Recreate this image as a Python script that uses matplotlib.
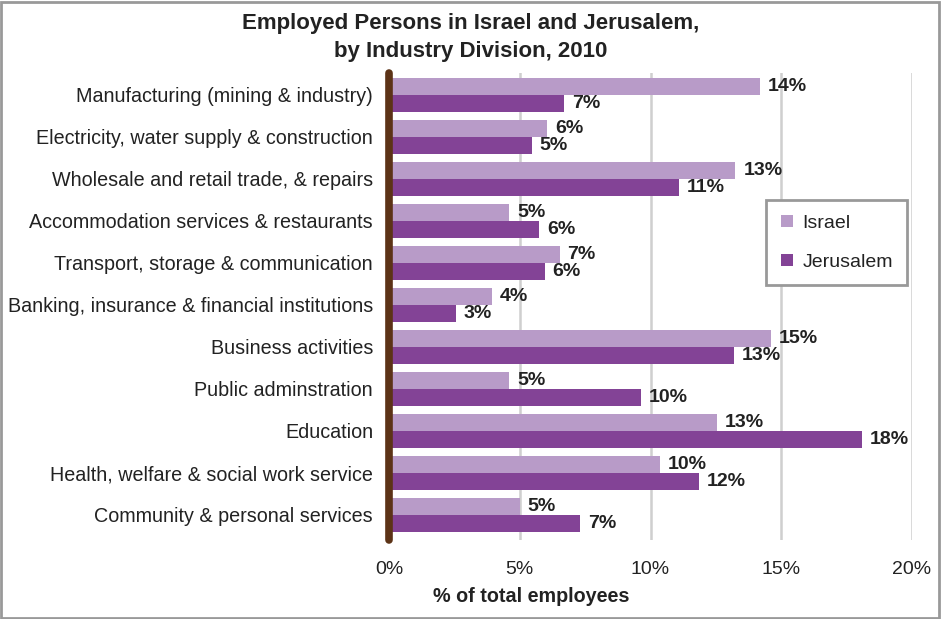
import matplotlib
matplotlib.use("Agg")
import matplotlib.pyplot as plt
from matplotlib.patches import Rectangle, Patch
import numpy as np
import math

categories = [
    "Manufacturing (mining & industry)",
    "Electricity, water supply & construction",
    "Wholesale and retail trade, & repairs",
    "Accommodation services & restaurants",
    "Transport, storage & communication",
    "Banking, insurance & financial institutions",
    "Business activities",
    "Public adminstration",
    "Education",
    "Health, welfare & social work service",
    "Community & personal services",
]
israel = [14.2, 6.05, 13.25, 4.6, 6.53, 3.95, 14.6, 4.6, 12.53, 10.35, 5.0]
jerusalem = [6.7, 5.45, 11.1, 5.75, 5.95, 2.55, 13.2, 9.65, 18.1, 11.85, 7.3]
xticks = [0, 5, 10, 15, 20]
xticklabels = ["0%", "5%", "10%", "15%", "20%"]
series_names = ["Israel", "Jerusalem"]

C_ISR = "#b89bc8"
C_JER = "#834396"
C_BROWN = "#5c3317"
C_TEXT = "#222222"

plt.rcParams["font.family"] = ["Liberation Sans", "DejaVu Sans"]

W, H = 941, 619
fig = plt.figure(figsize=(W / 100, H / 100), dpi=100)
L, R, T, B = 389, 912, 73, 540
ax = fig.add_axes([L / W, 1 - B / H, (R - L) / W, (B - T) / H])

y = np.arange(len(categories))
bh = 0.405
ax.barh(y - bh / 2, israel, height=bh, color=C_ISR, zorder=3)
ax.barh(y + bh / 2, jerusalem, height=bh, color=C_JER, zorder=3)


def pct(v):
    return f"{int(math.floor(v + 0.5))}%"


for yi, v in zip(y, israel):
    ax.text(v + 0.3, yi - bh / 2, pct(v), va="center", ha="left",
            fontsize=14, fontweight="bold", color=C_TEXT, zorder=5)
for yi, v in zip(y, jerusalem):
    ax.text(v + 0.3, yi + bh / 2, pct(v), va="center", ha="left",
            fontsize=14, fontweight="bold", color=C_TEXT, zorder=5)

ax.set_xlim(0, 20)
ax.set_ylim(len(categories) - 0.4, -0.52)
ax.set_xticks(xticks)
ax.set_xticklabels(xticklabels, fontsize=14, color=C_TEXT)
ax.set_yticks(y)
ax.set_yticklabels(categories, fontsize=14.2, color=C_TEXT)
ax.tick_params(axis="y", length=0, pad=11.5)
ax.tick_params(axis="x", length=0, pad=15)
for s in ax.spines.values():
    s.set_visible(False)
for xt in xticks[1:]:
    ax.axvline(xt, color="#cfcfcf", lw=1.8, zorder=1)
ax.plot([0, 0], [len(categories) - 0.4, -0.52], color=C_BROWN, lw=5.5,
        solid_capstyle="round", clip_on=False, zorder=6)

fig.text(470.5 / W, 1 - 23 / H, "Employed Persons in Israel and Jerusalem,",
         ha="center", va="center", fontsize=16, fontweight="bold", color=C_TEXT)
fig.text(470.5 / W, 1 - 52 / H, "by Industry Division, 2010",
         ha="center", va="center", fontsize=16, fontweight="bold", color=C_TEXT)
fig.text(531 / W, 1 - 597 / H, "% of total employees", ha="center", va="center",
         fontsize=14.2, fontweight="bold", color=C_TEXT)

handles = [Patch(facecolor=C_ISR), Patch(facecolor=C_JER)]
leg = ax.legend(handles, series_names, loc="upper left",
                bbox_to_anchor=(766 / W, 1 - 200 / H), bbox_transform=fig.transFigure,
                fontsize=14, frameon=True, fancybox=False, handlelength=0.62,
                handleheight=0.62, handletextpad=0.5, labelspacing=1.12,
                borderpad=0.75, borderaxespad=0)
leg.get_frame().set_edgecolor("#999999")
leg.get_frame().set_linewidth(2)
leg.get_frame().set_facecolor("white")
leg.get_frame().set_alpha(1)
leg.set_zorder(10)
for t in leg.get_texts():
    t.set_color(C_TEXT)

fig.patches.append(Rectangle((0.001, 0.001), 0.997, 0.996, transform=fig.transFigure,
                             fill=False, edgecolor="#999999", lw=2))

fig.savefig("out.png", dpi=100)
